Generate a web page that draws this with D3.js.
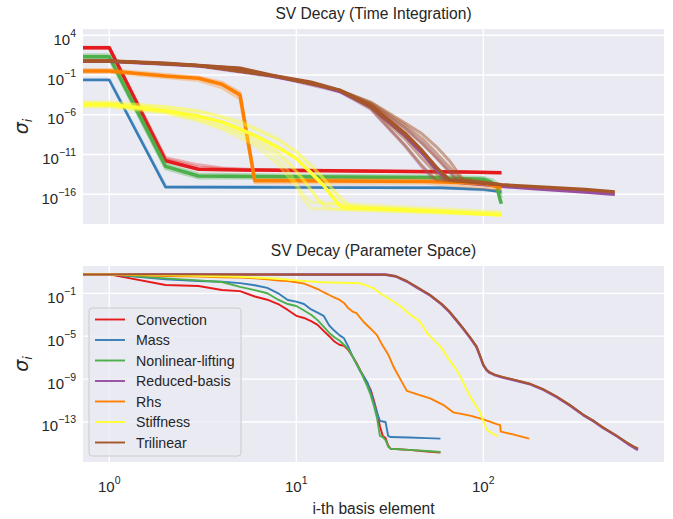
<!DOCTYPE html>
<html>
<head>
<meta charset="utf-8">
<script src="https://cdn.jsdelivr.net/npm/d3@7"></script>
<style>
  body { margin: 0; background: #fff; }
  text { font-family: "Liberation Sans", Arial, sans-serif; fill: #262626; }
</style>
</head>
<body>
<div id="vis"></div>
<script>
// categories and colours (Set1 order)
var categories = ["Convection", "Mass", "Nonlinear-lifting", "Reduced-basis", "Rhs", "Stiffness", "Trilinear"];
var colors = d3.schemeSet1.slice(0, 7);

var xTicks = [1, 10, 100];
var topYTicks = [1e4, 1e-1, 1e-6, 1e-11, 1e-16];
var botYTicks = [1e-1, 1e-5, 1e-9, 1e-13];

// ---- time integration: [basis index, log10 sigma]; first curve of each group is the solid one
var timeConvection = [
  [[1,2.43],[2,-11.78],[3,-12.86],[5,-12.95],[10,-13.0],[30,-13.1],[80,-13.2],[125,-13.3]],
  [[1,2.5],[2,-11.4],[3,-12.3],[4,-12.7],[6,-12.9],[125,-13.25]],
  [[1,2.35],[2,-11.6],[3,-12.6],[5,-12.9],[125,-13.3]]
];
var timeMass = [
  [[1,-1.63],[2,-15.1],[10,-15.15],[60,-15.2],[100,-15.4],[125,-15.7]],
  [[1,-1.55],[2,-15.0],[60,-15.15],[125,-15.6]]
];
var timeLifting = [
  [[1,1.3],[2,-12.5],[3,-13.7],[10,-13.8],[50,-13.9],[100,-14.1],[109,-14.4],[118,-15.0],[123,-16.7],[125,-17.2]],
  [[1,1.55],[2,-12.2],[3,-13.45],[10,-13.6],[50,-13.7],[100,-13.9],[112,-14.2],[120,-14.8],[125,-16.0]],
  [[1,1.05],[2,-12.8],[3,-13.95],[10,-14.0],[50,-14.1],[100,-14.3],[112,-14.6],[120,-15.2],[125,-16.5]]
];
var timeReduced = [
  [[1,0.72],[2,0.42],[3,0.15],[5,-0.22],[8,-1.3],[12,-2.0],[17,-3.05],[25,-5.0],[38,-8.6],[47,-10.8],[56,-12.9],[66,-14.4],[125,-15.0],[200,-15.35],[350,-15.7],[505,-16.0]],
  [[1,0.7],[3,0.1],[8,-1.3],[17,-3.0],[25,-4.7],[38,-7.6],[47,-9.5],[56,-11.3],[66,-13.1],[73,-14.3],[125,-14.95]],
  [[1,0.72],[3,0.12],[8,-1.3],[17,-3.1],[25,-5.3],[38,-9.9],[47,-12.6],[55,-14.3],[125,-14.95]]
];
var timeRhs = [
  [[1,-0.5],[2,-1.13],[3,-1.4],[4,-2.17],[5,-3.5],[6,-14.3],[10,-14.3],[50,-14.4],[100,-14.6],[125,-15.2]],
  [[1,-0.3],[2,-0.95],[3,-1.25],[4,-1.9],[5,-3.2],[6,-14.1],[50,-14.2],[125,-15.0]],
  [[1,-0.7],[2,-1.3],[3,-1.7],[4,-2.6],[5,-4.0],[6,-14.55],[50,-14.6],[125,-15.4]]
];
var timeStiffness = [
  [[1,-4.7],[2,-5.5],[3,-6.2],[4,-6.9],[6,-8.6],[8,-10.1],[10,-11.5],[12,-13.3],[14,-14.9],[16,-16.6],[17,-17.4],[18,-17.7],[30,-17.9],[60,-18.2],[125,-18.6]],
  [[1,-4.5],[2,-5.0],[3,-5.6],[4,-6.3],[6,-7.8],[8,-9.2],[10,-10.6],[13,-13.2],[16,-15.6],[19,-17.3],[22,-17.6],[125,-18.5]],
  [[1,-4.8],[2,-5.6],[3,-6.5],[4,-7.3],[6,-9.0],[8,-11.0],[10,-13.2],[12,-15.5],[14,-17.5],[16,-17.9],[125,-18.6]],
  [[1,-5.0],[2,-5.8],[3,-6.8],[4,-7.8],[6,-9.8],[8,-12.3],[10,-15.0],[11,-16.8],[12,-17.8],[125,-18.6]],
  [[1,-4.6],[2,-5.3],[3,-6.0],[5,-7.6],[7,-9.5],[9,-11.8],[11,-14.2],[13,-16.6],[14,-17.2],[20,-17.5],[125,-18.4]],
  [[1,-4.4],[2,-5.0],[3,-5.5],[5,-6.8],[8,-9.0],[11,-11.5],[14,-14.0],[17,-16.5],[19,-17.6],[125,-18.5]],
  [[1,-4.9],[2,-5.7],[3,-6.6],[5,-8.4],[7,-10.4],[9,-13.0],[10,-14.6],[11,-16.2],[12,-17.0],[125,-18.2]]
];
var timeTrilinear = [
  [[1,0.76],[2,0.47],[3,0.2],[5,-0.16],[8,-1.2],[12,-1.9],[17,-2.9],[25,-4.8],[38,-8.3],[47,-10.5],[56,-12.6],[66,-14.2],[125,-14.8],[200,-15.1],[350,-15.4],[505,-15.7]],
  [[1,0.76],[3,0.2],[8,-1.2],[17,-2.9],[25,-5.2],[38,-9.8],[47,-12.4],[56,-14.2],[80,-14.4],[125,-14.8]],
  [[1,0.76],[3,0.2],[8,-1.2],[17,-2.9],[25,-5.0],[38,-9.0],[47,-11.5],[56,-13.4],[62,-14.2],[125,-14.8]],
  [[1,0.76],[3,0.2],[8,-1.2],[17,-2.9],[25,-4.6],[38,-7.7],[47,-9.6],[56,-11.4],[66,-13.2],[72,-14.2],[125,-14.8]],
  [[1,0.76],[3,0.2],[8,-1.2],[17,-2.9],[25,-4.4],[38,-7.0],[47,-8.4],[56,-10.0],[66,-11.8],[78,-14.2],[125,-14.8]],
  [[1,0.76],[3,0.2],[8,-1.2],[17,-2.9],[25,-4.5],[38,-7.3],[47,-9.0],[56,-10.8],[66,-12.6],[75,-14.0],[125,-14.8]]
];

// ---- parameter space: [basis index, log10 sigma]
var paramConvection = [[1,0.76],[2,-0.23],[3,-0.32],[4,-0.69],[5,-0.8],[6,-1.3],[7,-1.6],[8,-2.0],[9,-2.55],[10,-3.1],[11,-3.3],[12,-3.6],[13,-3.95],[14,-4.5],[15,-5.0],[16,-5.5],[17,-5.8],[18,-5.9],[19,-6.3],[20,-6.9],[21,-7.5],[22,-8.2],[23,-8.8],[24,-9.4],[25,-10.0],[26,-11.0],[27,-12.1],[28,-13.4],[29,-14.3],[30,-14.5],[31,-15.2],[32,-15.5],[40,-15.6],[50,-15.75],[59,-15.84]];
var paramMass = [[1,0.76],[2,0.3],[3,0.15],[4,0.08],[5,-0.05],[6,-0.25],[7,-0.5],[8,-1.0],[9,-1.62],[10,-1.78],[11,-2.0],[12,-2.5],[13,-2.8],[14,-3.1],[15,-4.0],[16,-4.5],[17,-4.9],[18,-5.2],[19,-6.0],[20,-6.9],[21,-7.6],[22,-8.3],[23,-8.8],[24,-9.3],[25,-10.2],[26,-11.2],[27,-12.1],[28,-12.9],[29,-12.95],[30,-13.0],[31,-14.3],[32,-14.4],[40,-14.45],[50,-14.5],[59,-14.55]];
var paramLifting = [[1,0.76],[2,0.39],[3,0.2],[4,0.05],[5,-0.4],[6,-0.7],[7,-1.0],[8,-1.6],[9,-2.0],[10,-2.18],[11,-2.6],[12,-3.0],[13,-3.5],[14,-4.1],[15,-4.7],[16,-5.1],[17,-5.4],[18,-5.8],[19,-6.2],[20,-6.9],[21,-7.6],[22,-8.2],[23,-9.0],[24,-9.7],[25,-10.5],[26,-11.5],[27,-12.6],[28,-14.3],[29,-14.4],[30,-14.7],[31,-15.3],[32,-15.5],[40,-15.6],[50,-15.7],[59,-15.8]];
var paramReduced = [[1,0.76],[30,0.74],[34,0.58],[39,0.1],[44,-0.45],[52,-1.2],[60,-2.05],[66,-2.75],[72,-3.55],[78,-4.3],[85,-5.15],[92,-6.0],[96,-6.85],[100,-7.7],[104,-8.15],[108,-8.4],[116,-8.65],[127,-8.85],[150,-9.15],[176,-9.45],[210,-10.0],[246,-10.65],[290,-11.45],[342,-12.35],[390,-12.95],[437,-13.55],[520,-14.35],[607,-15.15],[640,-15.4],[672,-15.6]];
var paramRhs = [[1,0.76],[2,0.6],[3,0.55],[4,0.5],[5,0.46],[6,0.4],[7,0.3],[8,0.18],[9,0.14],[10,0.03],[11,-0.1],[12,-0.35],[13,-0.6],[14,-0.9],[15,-1.16],[16,-1.4],[17,-1.6],[18,-1.9],[19,-2.4],[20,-2.7],[21,-2.86],[22,-3.3],[23,-3.7],[25,-4.3],[27,-4.9],[29,-5.9],[31,-6.7],[33,-7.8],[36,-9.0],[39,-10.1],[44,-10.4],[52,-10.8],[61,-11.4],[69,-12.1],[85,-12.4],[100,-12.75],[118,-13.2],[123,-13.3],[124,-13.9],[144,-14.15],[176,-14.55]];
var paramStiffness = [[1,0.76],[2,0.7],[3,0.62],[5,0.54],[8,0.35],[10,0.2],[13,0.05],[17,-0.02],[22,-0.07],[24,-0.3],[26,-0.55],[28,-1.0],[30,-1.3],[32,-1.62],[36,-2.18],[40,-2.9],[44,-3.4],[46,-3.7],[50,-4.7],[52,-5.0],[56,-5.6],[59,-5.95],[63,-6.7],[67,-7.4],[71,-8.0],[75,-8.7],[80,-9.7],[85,-10.6],[90,-11.3],[96,-12.1],[100,-12.9],[104,-13.7],[110,-14.0],[120,-14.36]];
var paramTrilinear = [[1,0.76],[30,0.74],[34,0.6],[39,0.15],[44,-0.39],[52,-1.16],[60,-2.0],[66,-2.7],[72,-3.5],[78,-4.25],[85,-5.1],[92,-5.95],[96,-6.8],[100,-7.65],[104,-8.1],[108,-8.36],[116,-8.6],[127,-8.79],[150,-9.1],[176,-9.41],[210,-9.95],[246,-10.6],[290,-11.4],[342,-12.3],[390,-12.9],[437,-13.5],[520,-14.3],[607,-15.07],[640,-15.3],[672,-15.47]];

var timeGroups = [timeConvection, timeMass, timeLifting, timeReduced, timeRhs, timeStiffness, timeTrilinear];
var paramSeries = [paramConvection, paramMass, paramLifting, paramReduced, paramRhs, paramStiffness, paramTrilinear];

var W = 673, H = 519;
var svg = d3.select("#vis").append("svg").attr("width", W).attr("height", H);

var x = d3.scaleLog().domain([0.7237, 925]).range([83, 664]);
var yTop = d3.scaleLog().domain([Math.pow(10, -19.74), Math.pow(10, 4.786)]).range([224, 29]);
var yBot = d3.scaleLog().domain([Math.pow(10, -16.73), Math.pow(10, 1.545)]).range([462, 266]);

function supLabel(sel, base, exp) {
    sel.append("tspan").text(base).style("font-size", "15px");
    sel.append("tspan").text(exp).style("font-size", "10.5px").attr("dy", -8);
}
function expText(v) {
    return String(Math.round(Math.log10(v))).replace("-", "\u2212");
}

function drawPanel(y, yTicks, title, id, showX) {
    var g = svg.append("g");
    g.append("rect").attr("x", 83).attr("y", y.range()[1]).attr("width", 581)
        .attr("height", y.range()[0] - y.range()[1]).attr("fill", "#EAEAF2");
    svg.append("clipPath").attr("id", id).append("rect")
        .attr("x", 83).attr("y", y.range()[1]).attr("width", 581)
        .attr("height", y.range()[0] - y.range()[1]);

    g.selectAll(".gx").data(xTicks).enter().append("line")
        .attr("x1", d => x(d)).attr("x2", d => x(d))
        .attr("y1", y.range()[1]).attr("y2", y.range()[0])
        .attr("stroke", "#fff").attr("stroke-width", 1.3);
    g.selectAll(".gy").data(yTicks).enter().append("line")
        .attr("x1", 83).attr("x2", 664)
        .attr("y1", d => y(d)).attr("y2", d => y(d))
        .attr("stroke", "#fff").attr("stroke-width", 1.3);

    g.selectAll(".ty").data(yTicks).enter().append("text")
        .attr("x", 76).attr("y", d => y(d) + 9.5).attr("text-anchor", "end")
        .each(function(d) { supLabel(d3.select(this), "10", expText(d)); });

    if (showX) {
        g.selectAll(".tx").data(xTicks).enter().append("text")
            .attr("x", d => x(d)).attr("y", 491.5).attr("text-anchor", "middle")
            .each(function(d) { supLabel(d3.select(this), "10", expText(d)); });
    }

    g.append("text").attr("x", 373.5).attr("y", y.range()[1] - 10).attr("text-anchor", "middle")
        .style("font-size", "15.6px").text(title);

    var yl = g.append("text")
        .attr("transform", "translate(28," + ((y.range()[0] + y.range()[1]) / 2) + ") rotate(-90)")
        .attr("text-anchor", "middle").style("font-size", "19px");
    yl.append("tspan").text("\u03c3").style("font-style", "italic").style("font-family", "DejaVu Sans");
    yl.append("tspan").text("i").style("font-style", "italic").style("font-size", "13px")
        .style("font-family", "DejaVu Sans").attr("dy", 4);
    return g.append("g").attr("clip-path", "url(#" + id + ")");
}

function pathFor(y, c) {
    var line = d3.line().x(d => x(d[0])).y(d => y(Math.pow(10, d[1])));
    // lead-in from the clipped index 0, as matplotlib draws it
    return "M" + (x.range()[0] - 5) + "," + y(Math.pow(10, c[0][1])) + line(c).replace(/^M/, "L");
}

// top panel: faint runs with alpha, one solid run per operator
var faintAlpha = [0.3, 0.3, 0.35, 0.35, 0.3, 0.35, 0.5];
var gt = drawPanel(yTop, topYTicks, "SV Decay (Time Integration)", "clipTop", false);
timeGroups.forEach(function(group, k) {
    group.slice(1).forEach(function(c) {
        gt.append("path").attr("d", pathFor(yTop, c)).attr("fill", "none")
            .attr("stroke", colors[k]).attr("stroke-width", 3).attr("stroke-opacity", faintAlpha[k])
            .attr("stroke-linejoin", "round");
    });
    gt.append("path").attr("d", pathFor(yTop, group[0])).attr("fill", "none")
        .attr("stroke", colors[k]).attr("stroke-width", k === 1 ? 2.6 : 3.5)
        .attr("stroke-linejoin", "round");
});

// bottom panel
var gb = drawPanel(yBot, botYTicks, "SV Decay (Parameter Space)", "clipBot", true);
paramSeries.forEach(function(c, k) {
    gb.append("path").attr("d", pathFor(yBot, c)).attr("fill", "none")
        .attr("stroke", colors[k]).attr("stroke-width", k === 3 ? 2.6 : 1.9)
        .attr("stroke-linejoin", "round");
});

svg.append("text").attr("x", 373.5).attr("y", 514).attr("text-anchor", "middle")
    .style("font-size", "15.6px").text("i-th basis element");

// legend
var lg = svg.append("g");
lg.append("rect").attr("x", 89).attr("y", 308).attr("width", 152).attr("height", 148)
    .attr("rx", 3).attr("fill", "#EAEAF2").attr("fill-opacity", 0.8)
    .attr("stroke", "#cccccc").attr("stroke-width", 1);
categories.forEach(function(name, k) {
    var yy = 319.5 + k * 20.5;
    lg.append("line").attr("x1", 95).attr("x2", 125).attr("y1", yy).attr("y2", yy)
        .attr("stroke", colors[k]).attr("stroke-width", 1.9);
    lg.append("text").attr("x", 136).attr("y", yy + 5).style("font-size", "14.2px").text(name);
});
</script>
</body>
</html>
